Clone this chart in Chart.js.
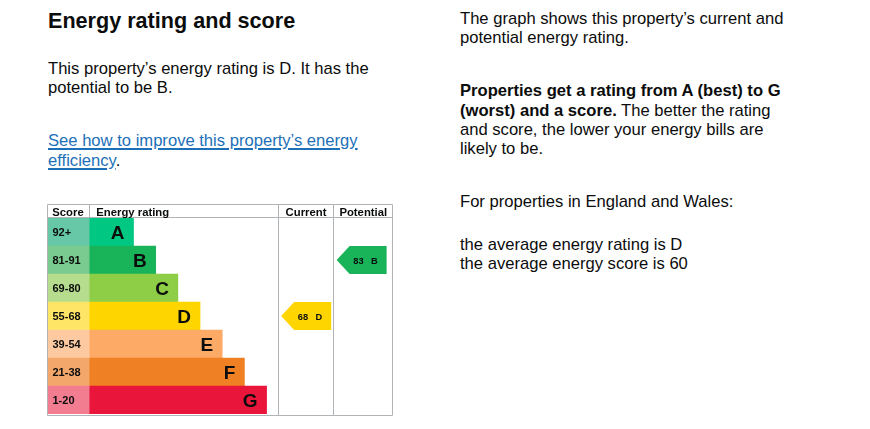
<!DOCTYPE html>
<html>
<head>
<meta charset="utf-8">
<script src="https://cdn.jsdelivr.net/npm/chart.js@4/dist/chart.umd.min.js"></script>
<style>
  html, body { margin: 0; padding: 0; background: #fff; }
  body { width: 870px; height: 429px; position: relative; overflow: hidden;
         font-family: "Liberation Sans", Arial, sans-serif; color: #0b0c0c; }
  .t { position: absolute; margin: 0; white-space: nowrap; font-size: 16.6px; line-height: 19.2px; }
  h2.t { font-size: 21.6px; line-height: 25px; font-weight: bold; }
  a { color: #1d70b8; text-decoration: underline; text-decoration-thickness: 2px; text-underline-offset: 1.5px; }
  #chartBox { position: absolute; left: 47px; top: 204px; width: 346px; height: 212px; }
</style>
</head>
<body>
<h2 class="t" style="left:48px; top:8px;">Energy rating and score</h2>
<p class="t" style="left:48px; top:58.6px;">This property’s energy rating is D. It has the<br>potential to be B.</p>
<p class="t" style="left:48px; top:131.3px;"><a href="#">See how to improve this property’s energy<br>efficiency</a>.</p>

<p class="t" style="left:460px; top:9px;">The graph shows this property’s current and<br>potential energy rating.</p>
<p class="t" style="left:460px; top:81.4px;"><b>Properties get a rating from A (best) to G<br>(worst) and a score.</b> The better the rating<br>and score, the lower your energy bills are<br>likely to be.</p>
<p class="t" style="left:460px; top:192px;">For properties in England and Wales:</p>
<p class="t" style="left:460px; top:234.7px;">the average energy rating is D<br>the average energy score is 60</p>

<div id="chartBox"><canvas id="c"></canvas></div>

<script>
// ---- data ----
const bands = ['A', 'B', 'C', 'D', 'E', 'F', 'G'];
const scoreRanges = ['92+', '81-91', '69-80', '55-68', '39-54', '21-38', '1-20'];
const barSteps = [2, 3, 4, 5, 6, 7, 8];
const columnHeaders = ['Score', 'Energy rating', 'Current', 'Potential'];
const currentScore = 68;
const currentBand = 'D';
const potentialScore = 83;
const potentialBand = 'B';

// ---- styles ----
const bandColors = ['#00c781', '#19b459', '#8dce46', '#ffd500', '#fcaa65', '#ef8023', '#e9153b'];
const scoreColors = ['#66c8a6', '#7acb8f', '#b6dd8e', '#ffe566', '#fdc9a0', '#f4a76b', '#f27c90'];

const layout = {
  xMax: 15.6,
  scoreColWidth: 1.9,
  currentColStart: 10.4,
  potentialColStart: 12.9
};

const FONT = '"Liberation Sans", Arial, sans-serif';
const INK = '#0b0c0c';

const epcTable = {
  id: 'epcTable',
  afterDatasetsDraw(chart, args, o) {
    const { ctx, chartArea: ca, scales: { x, y } } = chart;
    const W = chart.width, H = chart.height;
    const px = v => Math.round(x.getPixelForValue(v)) + 0.5;
    const rowH = y.getPixelForValue(1) - y.getPixelForValue(0);
    ctx.save();

    // table lines
    ctx.strokeStyle = '#b1b4b6';
    ctx.lineWidth = 1;
    ctx.beginPath();
    ctx.rect(0.5, 0.5, W - 1, H - 1);
    const hy = ca.top - 0.5;
    ctx.moveTo(0, hy); ctx.lineTo(W, hy);
    const sx = px(o.scoreColWidth);
    ctx.moveTo(sx, 0); ctx.lineTo(sx, ca.top);
    const cx = px(o.currentColStart), pxx = px(o.potentialColStart);
    ctx.moveTo(cx, 0); ctx.lineTo(cx, H);
    ctx.moveTo(pxx, 0); ctx.lineTo(pxx, H);
    ctx.stroke();

    // headers
    ctx.fillStyle = INK;
    ctx.font = 'bold 11.3px ' + FONT;
    ctx.textBaseline = 'alphabetic';
    ctx.textAlign = 'left';
    ctx.fillText(columnHeaders[0], 5.3, 12);
    ctx.fillText(columnHeaders[1], sx + 6.8, 12);
    ctx.textAlign = 'center';
    ctx.fillText(columnHeaders[2], (cx + pxx) / 2, 12);
    ctx.fillText(columnHeaders[3], (pxx + W) / 2, 12);

    // score ranges and letters
    bands.forEach((b, i) => {
      const yc = y.getPixelForValue(i);
      ctx.textAlign = 'left';
      ctx.font = 'bold 11px ' + FONT;
      ctx.fillText(scoreRanges[i], 5.5, yc + 4.2);
      ctx.textAlign = 'right';
      ctx.font = 'bold 19px ' + FONT;
      ctx.fillText(b, x.getPixelForValue(o.scoreColWidth + barSteps[i]) - 9, yc + 7);
    });

    // arrows
    const arrow = (colStart, band, score) => {
      const i = bands.indexOf(band);
      const yc = y.getPixelForValue(i);
      const top = yc - rowH / 2, bot = yc + rowH / 2;
      const left = x.getPixelForValue(colStart) + 3.5;
      const tip = 13, w = 50;
      ctx.fillStyle = bandColors[i];
      ctx.beginPath();
      ctx.moveTo(left, yc);
      ctx.lineTo(left + tip, top);
      ctx.lineTo(left + w, top);
      ctx.lineTo(left + w, bot);
      ctx.lineTo(left + tip, bot);
      ctx.closePath();
      ctx.fill();
      ctx.fillStyle = INK;
      ctx.font = 'bold 9.3px ' + FONT;
      ctx.textAlign = 'left';
      const tx = left + 16.6;
      const s = String(score);
      ctx.fillText(s, tx, yc + 3.6);
      ctx.fillText(band, tx + ctx.measureText(s).width + 7.5, yc + 3.6);
    };
    arrow(o.currentColStart, currentBand, currentScore);
    arrow(o.potentialColStart, potentialBand, potentialScore);

    ctx.restore();
  }
};

new Chart(document.getElementById('c'), {
  type: 'bar',
  data: {
    labels: bands,
    datasets: [
      {
        label: 'Score',
        data: bands.map(() => layout.scoreColWidth),
        backgroundColor: scoreColors,
        borderWidth: 0,
        barPercentage: 1,
        categoryPercentage: 1
      },
      {
        label: 'Energy rating',
        data: barSteps,
        backgroundColor: bandColors,
        borderWidth: 0,
        barPercentage: 1,
        categoryPercentage: 1
      }
    ]
  },
  options: {
    indexAxis: 'y',
    responsive: true,
    maintainAspectRatio: false,
    animation: false,
    events: [],
    layout: { padding: { top: 14, bottom: 2, left: 0, right: 0 } },
    scales: {
      x: { type: 'linear', min: 0, max: layout.xMax, stacked: true, display: false },
      y: { stacked: true, display: false, grid: { display: false } }
    },
    plugins: {
      legend: { display: false },
      tooltip: { enabled: false },
      epcTable: layout
    }
  },
  plugins: [epcTable]
});
</script>
</body>
</html>
